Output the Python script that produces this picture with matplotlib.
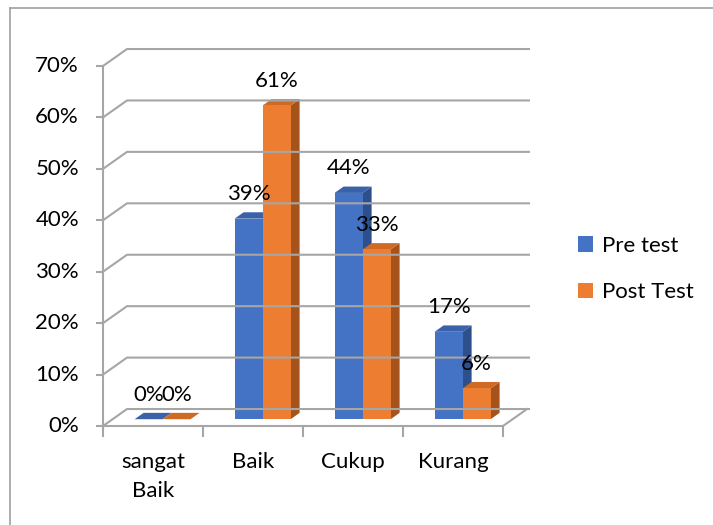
import matplotlib
matplotlib.use("Agg")
import matplotlib.pyplot as plt
from matplotlib.patches import Polygon, Patch
from matplotlib.lines import Line2D

categories = ["sangat\nBaik", "Baik", "Cukup", "Kurang"]
pre_test = [0, 39, 44, 17]
post_test = [0, 61, 33, 6]
yticks = [0, 10, 20, 30, 40, 50, 60, 70]
series = ["Pre test", "Post Test"]

plt.rcParams["font.family"] = ["Lato", "DejaVu Sans"]

# front, top and side shades for each series
warna = {
    "Pre test": ("#4472c4", "#3a62ab", "#2d4f8b"),
    "Post Test": ("#ed7d31", "#cf6a24", "#a6521b"),
}
abu = "#a6a6a6"
fs = 16

fig = plt.figure(figsize=(7.13, 5.25), dpi=100)
ax = fig.add_axes([103 / 713, 99 / 525, 400 / 713, 360 / 525])
ax.set_xlim(0, 4)
ax.set_ylim(0, 70)
ax.axis("off")

DX, DY = 0.24, 3.3  # kedalaman dinding
f0, f1 = 0.4, 0.775  # posisi depan/belakang batang di dalam kedalaman
dx0, dy0 = f0 * DX, f0 * DY
ddx, ddy = (f1 - f0) * DX, (f1 - f0) * DY
lebar = 0.28

# dinding samping + belakang
for t in yticks:
    ax.plot([0, DX, 4 + DX + 0.03], [t, t + DY, t + DY], color=abu, lw=1.5,
            clip_on=False, solid_capstyle="butt")
    ax.plot([-0.06, 0], [t, t], color=abu, lw=1.5, clip_on=False)
    ax.text(-0.24, t, f"{t}%", ha="right", va="center", fontsize=fs)
ax.plot([0, 0], [0, 70], color=abu, lw=1.5, clip_on=False)

# lantai
ax.plot([0, 4, 4 + DX], [0, 0, DY], color=abu, lw=1.5, clip_on=False)
for i in range(5):
    ax.plot([i, i], [0, -2.0], color=abu, lw=1.5, clip_on=False)
for i, c in enumerate(categories):
    ax.text(i + 0.5, -5.0, c, ha="center", va="top", fontsize=fs, linespacing=1.6)

# batang 3D
for i in range(len(categories)):
    for j, (nama, nilai) in enumerate(zip(series, [pre_test[i], post_test[i]])):
        depan, atas, sisi = warna[nama]
        x0 = i + 0.5 - lebar + j * lebar + dx0
        x1 = x0 + lebar
        y1 = dy0 + nilai
        ax.add_patch(Polygon([(x1, dy0), (x1 + ddx, dy0 + ddy), (x1 + ddx, y1 + ddy), (x1, y1)],
                             closed=True, facecolor=sisi, edgecolor="none", clip_on=False))
        ax.add_patch(Polygon([(x0, y1), (x1, y1), (x1 + ddx, y1 + ddy), (x0 + ddx, y1 + ddy)],
                             closed=True, facecolor=atas, edgecolor="none", clip_on=False))
        ax.bar(x0, nilai, width=lebar, bottom=dy0, align="edge", color=depan,
               edgecolor="none", clip_on=False)
        ax.text((x0 + x1) / 2, nilai + 6.1, f"{nilai}%", ha="center", va="center",
                fontsize=fs)

# legenda
handles = [Patch(facecolor=warna[s][0], edgecolor="none") for s in series]
fig.legend(handles, series, loc="center left", bbox_to_anchor=(578 / 713, 1 - 269 / 525),
           frameon=False, fontsize=fs, handlelength=0.68, handleheight=0.68,
           handletextpad=0.4, labelspacing=1.2, borderpad=0, borderaxespad=0)

# bingkai
fig.add_artist(Line2D([10 / 713, 10 / 713], [0, 1 - 8 / 525], color="#a0a0a0", lw=1.2))
fig.add_artist(Line2D([10 / 713, 1], [1 - 8 / 525, 1 - 8 / 525], color="#a0a0a0", lw=1.2))

fig.savefig("out.png", dpi=100, facecolor="white")
